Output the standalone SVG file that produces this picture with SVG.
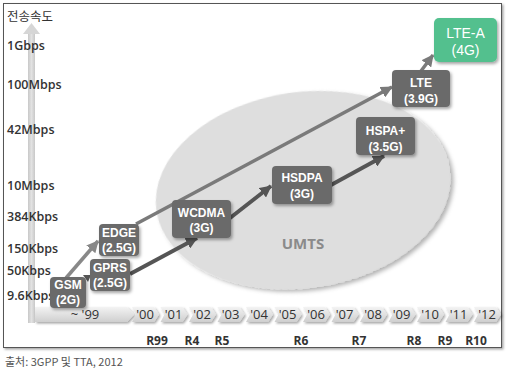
<svg xmlns="http://www.w3.org/2000/svg" width="510" height="370" viewBox="0 0 510 370">
<defs>
<filter id="sh" x="-20%" y="-20%" width="150%" height="150%"><feDropShadow dx="1.5" dy="2" stdDeviation="1.5" flood-color="#000" flood-opacity="0.35"/></filter>
<filter id="esh" x="-10%" y="-10%" width="125%" height="125%"><feDropShadow dx="3" dy="3" stdDeviation="2" flood-color="#000" flood-opacity="0.3"/></filter>
<filter id="csh" x="-20%" y="-30%" width="150%" height="180%"><feDropShadow dx="1.5" dy="1.5" stdDeviation="1" flood-color="#000" flood-opacity="0.35"/></filter>
<linearGradient id="cg" x1="0" y1="0" x2="0" y2="1"><stop offset="0" stop-color="#f3f3f3"/><stop offset="1" stop-color="#cfcfcf"/></linearGradient>
<linearGradient id="ag" x1="0" y1="0" x2="1" y2="0"><stop offset="0" stop-color="#c8c8c8"/><stop offset="0.5" stop-color="#e2e2e2"/><stop offset="1" stop-color="#c8c8c8"/></linearGradient>
<marker id="mD" markerUnits="userSpaceOnUse" markerWidth="13" markerHeight="12" refX="11" refY="6" orient="auto"><path d="M0,0 L12,6 L0,12 Z" fill="#555"/></marker>
<marker id="mL" markerUnits="userSpaceOnUse" markerWidth="13" markerHeight="12" refX="11" refY="6" orient="auto"><path d="M0,0 L12,6 L0,12 Z" fill="#7a7a7a"/></marker>
<marker id="mG" markerUnits="userSpaceOnUse" markerWidth="13" markerHeight="12" refX="11" refY="6" orient="auto"><path d="M0,0 L12,6 L0,12 Z" fill="#888"/></marker>
</defs>
<style>
.ax{font-family:"Open Sans","Liberation Sans",sans-serif;font-size:12.5px;font-weight:600;fill:#333}
.kr{font-family:"Noto Sans CJK KR","Liberation Sans",sans-serif;font-size:12.5px;fill:#333}
.yr{font-family:"Open Sans","Liberation Sans",sans-serif;font-size:13px;font-weight:500;fill:#333;text-anchor:middle}
.rl{font-family:"Open Sans","Liberation Sans",sans-serif;font-size:12px;font-weight:700;fill:#333;text-anchor:middle}
.nb{fill:#6b6b6b;filter:url(#sh)}
.nt{font-family:"Liberation Sans","Arial",sans-serif;font-size:12px;font-weight:700;fill:#fff;text-anchor:middle}
.ch{fill:url(#cg);filter:url(#csh)}
.cn{fill:none;stroke-linecap:butt}
</style>
<rect x="0" y="0" width="510" height="370" fill="#fff"/>
<rect x="3.5" y="3.5" width="498" height="344" fill="#fff" stroke="#555" stroke-width="1" filter="url(#csh)"/>

<!-- UMTS ellipse -->
<g id="umts">
<ellipse cx="303" cy="190" rx="148" ry="98" transform="rotate(-8 303 190)" fill="#dedede" filter="url(#esh)"/>
<text x="303" y="249" font-family="Open Sans, Liberation Sans, sans-serif" font-size="15" font-weight="700" fill="#8a8a8a" text-anchor="middle">UMTS</text>
</g>

<!-- axes -->
<g id="y-axis">
<rect x="28" y="30" width="7" height="293" fill="url(#ag)"/>
<polygon points="23,34 31.5,23 40,34" fill="#d6d6d6"/>
<text class="kr" x="7" y="21">전송속도</text>
<text class="ax" x="7" y="50">1Gbps</text>
<text class="ax" x="7" y="89">100Mbps</text>
<text class="ax" x="7" y="134">42Mbps</text>
<text class="ax" x="7" y="190">10Mbps</text>
<text class="ax" x="7" y="221">384Kbps</text>
<text class="ax" x="7" y="253">150Kbps</text>
<text class="ax" x="7" y="275">50Kbps</text>
<text class="ax" x="7" y="300">9.6Kbps</text>
</g>

<g id="x-axis">
<path class="ch" d="M35,307 H127 L134,314.5 L127,322 H35 Z"/>
<text class="yr" x="85" y="319">~ '99</text>
<path class="ch" d="M132,307 H154 L159,314.5 L154,322 H132 L136,314.5 Z"/>
<path class="ch" d="M160.5,307 H182.5 L187.5,314.5 L182.5,322 H160.5 L164.5,314.5 Z"/>
<path class="ch" d="M189,307 H211 L216,314.5 L211,322 H189 L193,314.5 Z"/>
<path class="ch" d="M217.5,307 H239.5 L244.5,314.5 L239.5,322 H217.5 L221.5,314.5 Z"/>
<path class="ch" d="M246,307 H268 L273,314.5 L268,322 H246 L250,314.5 Z"/>
<path class="ch" d="M274.5,307 H296.5 L301.5,314.5 L296.5,322 H274.5 L278.5,314.5 Z"/>
<path class="ch" d="M303,307 H325 L330,314.5 L325,322 H303 L307,314.5 Z"/>
<path class="ch" d="M331.5,307 H353.5 L358.5,314.5 L353.5,322 H331.5 L335.5,314.5 Z"/>
<path class="ch" d="M360,307 H382 L387,314.5 L382,322 H360 L364,314.5 Z"/>
<path class="ch" d="M388.5,307 H410.5 L415.5,314.5 L410.5,322 H388.5 L392.5,314.5 Z"/>
<path class="ch" d="M417,307 H439 L444,314.5 L439,322 H417 L421,314.5 Z"/>
<path class="ch" d="M445.5,307 H467.5 L472.5,314.5 L467.5,322 H445.5 L449.5,314.5 Z"/>
<path class="ch" d="M474,307 H496 L501,314.5 L496,322 H474 L478,314.5 Z"/>
<text class="yr" x="145" y="319">'00</text>
<text class="yr" x="173.5" y="319">'01</text>
<text class="yr" x="202" y="319">'02</text>
<text class="yr" x="230.5" y="319">'03</text>
<text class="yr" x="259" y="319">'04</text>
<text class="yr" x="287.5" y="319">'05</text>
<text class="yr" x="316" y="319">'06</text>
<text class="yr" x="344.5" y="319">'07</text>
<text class="yr" x="373" y="319">'08</text>
<text class="yr" x="401.5" y="319">'09</text>
<text class="yr" x="430" y="319">'10</text>
<text class="yr" x="458.5" y="319">'11</text>
<text class="yr" x="487" y="319">'12</text>
<text class="rl" x="157" y="345">R99</text>
<text class="rl" x="192" y="345">R4</text>
<text class="rl" x="222" y="345">R5</text>
<text class="rl" x="301" y="345">R6</text>
<text class="rl" x="359" y="345">R7</text>
<text class="rl" x="414" y="345">R8</text>
<text class="rl" x="445" y="345">R9</text>
<text class="rl" x="476" y="345">R10</text>
</g>

<!-- connectors -->
<g id="connectors">
<path class="cn" d="M136,224 L392,87" stroke="#7a7a7a" stroke-width="3.5" marker-end="url(#mL)"/>
<path class="cn" d="M66,278 L98,241" stroke="#888" stroke-width="3.5" marker-end="url(#mG)"/>
<polygon points="83,275 91,275 88,282" fill="#555"/>
<path class="cn" d="M130,274 L197,238" stroke="#555" stroke-width="4" marker-end="url(#mD)"/>
<path class="cn" d="M230,218 L271,186" stroke="#555" stroke-width="4" marker-end="url(#mD)"/>
<path class="cn" d="M331,185 L384,156" stroke="#555" stroke-width="4" marker-end="url(#mD)"/>
<path class="cn" d="M421,71 L433,55" stroke="#7a7a7a" stroke-width="3.5" marker-end="url(#mL)"/>
</g>

<!-- nodes -->
<g id="gsm"><rect class="nb" x="50" y="277" width="36" height="31" rx="4"/><text class="nt"><tspan x="68" y="289">GSM</tspan><tspan x="68" y="304">(2G)</tspan></text></g>
<g id="edge"><rect class="nb" x="99" y="224" width="40" height="32" rx="4"/><text class="nt"><tspan x="119" y="237">EDGE</tspan><tspan x="119" y="252">(2.5G)</tspan></text></g>
<g id="gprs"><rect class="nb" x="90" y="259" width="40" height="32" rx="4"/><text class="nt"><tspan x="110" y="272">GPRS</tspan><tspan x="110" y="287">(2.5G)</tspan></text></g>
<g id="wcdma"><rect class="nb" x="172" y="200" width="59" height="38" rx="4"/><text class="nt"><tspan x="201.5" y="217">WCDMA</tspan><tspan x="201.5" y="232">(3G)</tspan></text></g>
<g id="hsdpa"><rect class="nb" x="272" y="166" width="60" height="38" rx="4"/><text class="nt"><tspan x="302" y="182">HSDPA</tspan><tspan x="302" y="198">(3G)</tspan></text></g>
<g id="hspaplus"><rect class="nb" x="356" y="117" width="59" height="38" rx="4"/><text class="nt"><tspan x="385.5" y="135">HSPA+</tspan><tspan x="385.5" y="151">(3.5G)</tspan></text></g>
<g id="lte"><rect class="nb" x="392" y="70" width="58" height="37" rx="4"/><text class="nt"><tspan x="421" y="87">LTE</tspan><tspan x="421" y="103">(3.9G)</tspan></text></g>
<g id="lte-a"><rect x="434" y="18" width="63" height="44" rx="5" fill="#52c08e" filter="url(#sh)"/><text class="nt" style="font-size:14px;font-weight:400"><tspan x="465.5" y="38">LTE-A</tspan><tspan x="465.5" y="55">(4G)</tspan></text></g>

<text x="5" y="366" font-family="Noto Sans CJK KR, Liberation Sans, sans-serif" font-size="11" fill="#555">출처: 3GPP 및 TTA, 2012</text>
</svg>
